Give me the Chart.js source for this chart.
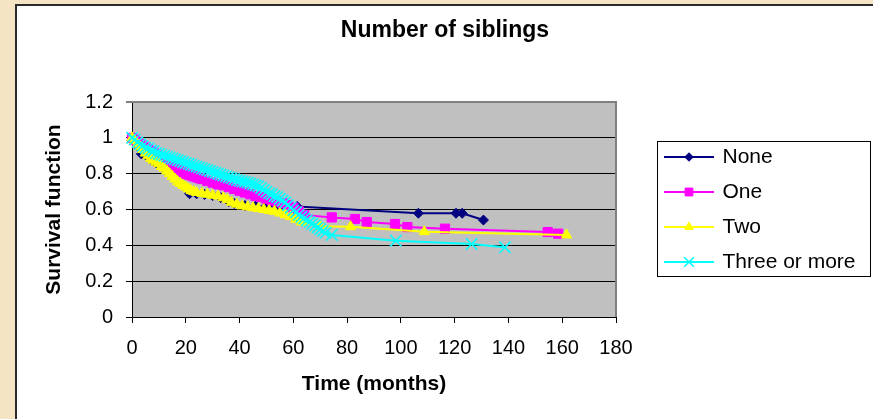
<!DOCTYPE html>
<html>
<head>
<meta charset="utf-8">
<script src="https://cdn.jsdelivr.net/npm/chart.js@4/dist/chart.umd.min.js"></script>
<style>
html,body{margin:0;padding:0;background:#f6e6c6;}
canvas{display:block;}
</style>
</head>
<body>
<canvas id="c" width="873" height="419"></canvas>
<script>
const chartTitle = 'Number of siblings';
const xAxisTitle = 'Time (months)';
const yAxisTitle = 'Survival function';
const seriesNames = ['None', 'One', 'Two', 'Three or more'];
const seriesColors = ['#000080', '#ff00ff', '#ffff00', '#00ffff'];
const xTickValues = [0, 20, 40, 60, 80, 100, 120, 140, 160, 180];
const yTickValues = [0, 0.2, 0.4, 0.6, 0.8, 1, 1.2];

const noneTime = [0,1,2,3.5,5,7,9,11,13,15,17,19,21.4,24,27,30,33,36,38,42,46,50,55,61.4,106.5,120.5,122.8,130.7];
const noneSurv = [1,0.98,0.955,0.91,0.905,0.88,0.86,0.84,0.815,0.785,0.755,0.735,0.688,0.688,0.684,0.678,0.666,0.645,0.634,0.622,0.619,0.618,0.617,0.617,0.579,0.579,0.579,0.541];

const oneTime = [0,1,2,3,4,5,6,7,8,9,10,11,12,13,14,15,16,17,18,19,20,21,22,23,24,25,26,28,30,32,34,36,38,40,42,44,46,48,50,52,54,56,58,60,62,64,74.3,82.9,87.3,97.8,102.4,116.4,154.6,158.5];
const oneSurv = [1,0.99,0.975,0.965,0.955,0.945,0.935,0.925,0.915,0.905,0.895,0.885,0.88,0.87,0.86,0.85,0.84,0.83,0.82,0.81,0.8,0.795,0.79,0.785,0.78,0.775,0.77,0.76,0.75,0.74,0.735,0.725,0.715,0.705,0.695,0.685,0.675,0.67,0.66,0.65,0.645,0.635,0.625,0.61,0.59,0.57,0.556,0.547,0.53,0.519,0.502,0.493,0.474,0.465];

const twoTime = [0,1,2,3,4,5,6,7,8,9,10,11,12,13,14,15,16,17,18,19,20,21,22,23,24,26,28,30,32,34,35.5,37,39,41,43,45,47,49,51,53,55,57,59,61,63,70,81.3,108.7,161.6];
const twoSurv = [1,0.985,0.965,0.95,0.935,0.915,0.9,0.885,0.875,0.865,0.855,0.84,0.83,0.815,0.8,0.785,0.77,0.755,0.745,0.735,0.725,0.715,0.705,0.7,0.695,0.69,0.685,0.68,0.675,0.665,0.655,0.64,0.63,0.62,0.615,0.61,0.605,0.6,0.595,0.59,0.58,0.57,0.56,0.545,0.53,0.506,0.504,0.476,0.458];

const threeTime = [0,1,2,3,4,5,6,7,8,9,10,11,12,13,14,15,16,17,18,19,20,21,22,23,24,25,26,27,28,29,30,31,32,33,34,35,36,37,38,39,40,41,42,43,44,45,46,47,48,49,50,51,52,53,54,55,56,57,58,59,60,61,62,63,64,65,66,67,68,69,70,71,72,74.3,98.1,126.3,138.7];
const threeSurv = [1,0.99,0.975,0.965,0.955,0.945,0.94,0.93,0.925,0.915,0.91,0.905,0.9,0.895,0.89,0.885,0.88,0.875,0.87,0.865,0.86,0.855,0.85,0.845,0.84,0.835,0.83,0.825,0.82,0.815,0.81,0.805,0.8,0.795,0.79,0.785,0.78,0.775,0.77,0.765,0.76,0.757,0.754,0.75,0.745,0.74,0.735,0.73,0.72,0.71,0.7,0.69,0.685,0.675,0.67,0.66,0.65,0.64,0.625,0.61,0.595,0.585,0.57,0.56,0.55,0.54,0.53,0.52,0.51,0.5,0.49,0.48,0.47,0.458,0.426,0.407,0.389];

const FONT = "'Liberation Sans', Arial, sans-serif";
const W = 873, H = 419;
const PLOT = {left: 132, right: 616, top: 102, bottom: 317};

function pts(t, s) { return t.map((v, i) => ({x: v, y: s[i]})); }

const markerStyles = [
  {pointStyle: 'rectRot', radius: 5, bw: 1},
  {pointStyle: 'rect', radius: 6.5, bw: 1},
  {pointStyle: 'triangle', radius: 6, bw: 1},
  {pointStyle: 'crossRot', radius: 8, bw: 1.6}
];

function legendIcon(i) {
  const c = document.createElement('canvas');
  c.width = 50; c.height = 16;
  const g = c.getContext('2d');
  g.strokeStyle = seriesColors[i];
  g.fillStyle = seriesColors[i];
  g.lineWidth = 2;
  g.beginPath(); g.moveTo(0, 8); g.lineTo(50, 8); g.stroke();
  g.lineWidth = markerStyles[i].bw;
  Chart.helpers.drawPoint(g, {pointStyle: markerStyles[i].pointStyle, radius: markerStyles[i].radius * 0.85, rotation: 0, borderWidth: markerStyles[i].bw}, 25, 8);
  return c;
}

const seriesData = [pts(noneTime, noneSurv), pts(oneTime, oneSurv), pts(twoTime, twoSurv), pts(threeTime, threeSurv)];

const datasets = seriesNames.map((name, i) => ({
  label: name,
  data: seriesData[i],
  showLine: true,
  borderColor: seriesColors[i],
  backgroundColor: seriesColors[i],
  borderWidth: 2,
  pointStyle: markerStyles[i].pointStyle,
  pointRadius: markerStyles[i].radius,
  pointBorderWidth: markerStyles[i].bw,
  pointBackgroundColor: seriesColors[i],
  pointBorderColor: seriesColors[i],
  tension: 0,
  clip: false,
  order: 4 - i
}));

const decor = {
  id: 'decor',
  beforeLayout(chart) {
    const lg = chart.legend;
    if (lg && !lg._patched) {
      const orig = lg.fit;
      lg.fit = function () { orig.call(this); this.width = W - PLOT.right; };
      lg._patched = true;
    }
  },
  afterLayout(chart) {
    const lg = chart.legend;
    if (!lg) return;
    const w = lg.width;
    lg.left = 666 - lg.options.labels.padding;
    lg.right = lg.left + w;
    lg.top = 0; lg.bottom = H;
  },
  beforeDraw(chart) {
    const ctx = chart.ctx;
    ctx.save();
    ctx.fillStyle = '#f5e4c3';
    ctx.fillRect(0, 0, W, H);
    ctx.fillStyle = '#ffffff';
    ctx.fillRect(17, 6, W - 17, H - 6);
    ctx.strokeStyle = '#2a2a2a';
    ctx.lineWidth = 2;
    ctx.beginPath();
    ctx.moveTo(16, H); ctx.lineTo(16, 5); ctx.lineTo(W, 5);
    ctx.stroke();
    const a = chart.chartArea;
    ctx.fillStyle = '#c0c0c0';
    ctx.fillRect(a.left, a.top, a.right - a.left, a.bottom - a.top);
    ctx.restore();
  },
  beforeDatasetsDraw(chart) {
    const ctx = chart.ctx, a = chart.chartArea;
    ctx.save();
    ctx.strokeStyle = '#808080';
    ctx.lineWidth = 2;
    ctx.beginPath();
    ctx.moveTo(a.left, a.top); ctx.lineTo(a.right, a.top); ctx.lineTo(a.right, a.bottom);
    ctx.stroke();
    ctx.restore();
  },
  afterDraw(chart) {
    const ctx = chart.ctx;
    ctx.save();
    ctx.strokeStyle = '#000';
    ctx.lineWidth = 1;
    ctx.strokeRect(657.5, 141.5, 213, 135);
    ctx.restore();
  }
};

const icons = seriesNames.map((_, i) => legendIcon(i));

new Chart(document.getElementById('c'), {
  type: 'scatter',
  data: {datasets},
  plugins: [decor],
  options: {
    responsive: false,
    animation: false,
    devicePixelRatio: 1,
    layout: {padding: {left: 17, top: 6, right: 0, bottom: 0}},
    plugins: {
      tooltip: {enabled: false},
      title: {
        display: true,
        text: chartTitle,
        color: '#000',
        font: {family: FONT, size: 23, weight: 'bold'},
        padding: {top: 10.7, bottom: 57.7}
      },
      legend: {
        position: 'right',
        labels: {
          usePointStyle: true,
          pointStyleWidth: 46,
          padding: 14,
          color: '#000',
          font: {family: FONT, size: 21},
          generateLabels: (chart) => chart.data.datasets.map((ds, i) => ({
            text: ds.label,
            pointStyle: icons[i],
            fillStyle: ds.backgroundColor,
            strokeStyle: ds.borderColor,
            lineWidth: 0,
            hidden: false,
            datasetIndex: i,
            fontColor: '#000'
          }))
        }
      }
    },
    scales: {
      x: {
        type: 'linear',
        min: xTickValues[0],
        max: xTickValues[xTickValues.length - 1],
        afterBuildTicks: (s) => { s.ticks = xTickValues.map(v => ({value: v})); },
        afterFit: (s) => { s.height = H - PLOT.bottom; },
        ticks: {color: '#000', font: {family: FONT, size: 20}, padding: 13.5, maxRotation: 0, autoSkip: false, callback: (v) => String(v)},
        grid: {drawOnChartArea: false, drawTicks: true, tickLength: 6, color: '#000', lineWidth: 1},
        border: {display: true, color: '#000', width: 1},
        title: {display: true, text: xAxisTitle, color: '#000', font: {family: FONT, size: 21, weight: 'bold'}, padding: {top: 0, bottom: 22.4}}
      },
      y: {
        type: 'linear',
        min: yTickValues[0],
        max: yTickValues[yTickValues.length - 1],
        afterBuildTicks: (s) => { s.ticks = yTickValues.map(v => ({value: v})); },
        afterFit: (s) => { s.width = PLOT.left - 17; },
        ticks: {color: '#000', font: {family: FONT, size: 20}, padding: 13, autoSkip: false, callback: (v) => String(v)},
        grid: {
          drawTicks: true, tickLength: 6,
          color: (c) => (c.tick && c.tick.value === yTickValues[yTickValues.length - 1]) ? '#808080' : '#000',
          lineWidth: (c) => (c.tick && c.tick.value === yTickValues[yTickValues.length - 1]) ? 2 : 1
        },
        border: {display: true, color: '#000', width: 1},
        title: {display: true, text: yAxisTitle, color: '#000', font: {family: FONT, size: 21, weight: 'bold'}, padding: {top: 24.9, bottom: 0}}
      }
    }
  }
});
</script>
</body>
</html>
